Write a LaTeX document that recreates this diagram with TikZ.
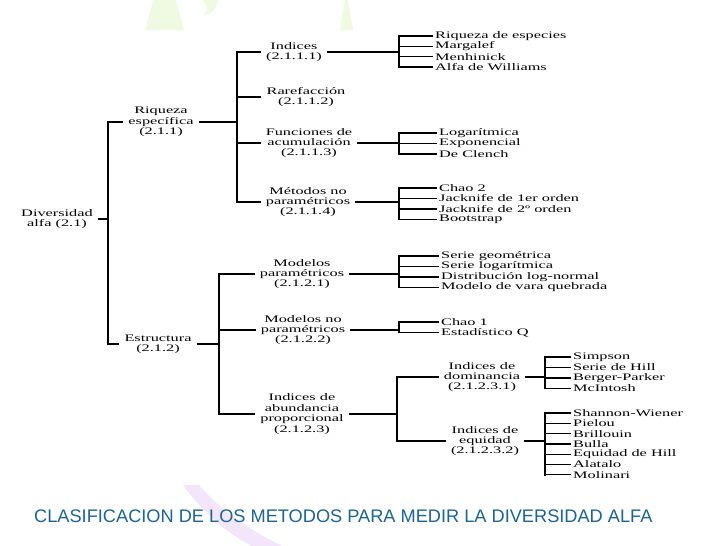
\documentclass[tikz,border=0pt]{standalone}
\usepackage{fontspec}
\newfontfamily\treefont[FakeStretch=1.63]{Liberation Serif}
\newfontfamily\capfont{Liberation Sans}
\usetikzlibrary{positioning,calc}
\definecolor{captionblue}{RGB}{27,100,150}
\definecolor{softgreen}{RGB}{240,250,226}
\definecolor{softpurple}{RGB}{243,230,250}

\begin{document}
\begin{tikzpicture}[
    x=1pt, y=-1pt,
    branch/.style={align=center, inner xsep=5pt, inner ysep=2pt, font=\treefont\fontsize{10}{10.4}\selectfont},
    leaf/.style={anchor=west, inner sep=2pt, font=\treefont\fontsize{10}{10.4}\selectfont},
    twig/.style={line width=1.2pt},
    rail/.style={line width=1.7pt, line cap=rect}
]
    \useasboundingbox (0,0) rectangle (728,546);
    \fill[white] (0,0) rectangle (728,546);

    % Fondo
    \fill[softgreen] (153,0) -- (176,0) -- (184,30) -- (145,30) -- cycle;
    \fill[softgreen] (203,0) -- (218,0) .. controls (216,10) and (210,15) .. (204,15) .. controls (208,9) .. (203,0);
    \fill[softgreen] (345,0) -- (348,0) -- (353,30) -- (340,30) -- cycle;
    \fill[softpurple] (183,485) .. controls (205,515) and (230,535) .. (252,546) -- (282,546) .. controls (250,530) and (220,510) .. (199,485) -- cycle;

    % Nivel 0 y 1
    \node[branch] (div) at (57,219) {Diversidad\\alfa (2.1)};
    \node[branch] (riq) at (161,122) {Riqueza\\específica\\(2.1.1)};
    \node[branch] (est) at (158,344) {Estructura\\(2.1.2)};
    \coordinate (r1) at (108,219);

    % Riqueza específica
    \node[branch] (ind) at (294,52) {Indices\\(2.1.1.1)};
    \node[branch] (rar) at (306,97) {Rarefacción\\(2.1.1.2)};
    \node[branch] (fun) at (309,143) {Funciones de\\acumulación\\(2.1.1.3)};
    \node[branch] (mnp) at (308,202) {Métodos no\\paramétricos\\(2.1.1.4)};
    \coordinate (r2) at (237,122);

    % Indices
    \node[leaf] (a1) at (433,36) {Riqueza de especies};
    \node[leaf] (a2) at (433,46.3) {Margalef};
    \node[leaf] (a3) at (433,56.6) {Menhinick};
    \node[leaf] (a4) at (433,67) {Alfa de Williams};
    \coordinate (ra) at (399,52);

    % Funciones de acumulación
    \node[leaf] (b1) at (437,133) {Logarítmica};
    \node[leaf] (b2) at (437,143.5) {Exponencial};
    \node[leaf] (b3) at (437,154) {De Clench};
    \coordinate (rb) at (399,143);

    % Métodos no paramétricos
    \node[leaf] (c1) at (437,188) {Chao 2};
    \node[leaf] (c2) at (437,198.5) {Jacknife de 1er orden};
    \node[leaf] (c3) at (437,209) {Jacknife de 2º orden};
    \node[leaf] (c4) at (437,219.5) {Bootstrap};
    \coordinate (rc) at (399,202);

    % Estructura
    \node[branch] (mpa) at (302,274) {Modelos\\paramétricos\\(2.1.2.1)};
    \node[branch] (mnq) at (303,330) {Modelos no\\paramétricos\\(2.1.2.2)};
    \node[branch] (iap) at (302,414) {Indices de\\abundancia\\proporcional\\(2.1.2.3)};
    \coordinate (r3) at (219,344);

    % Modelos paramétricos
    \node[leaf] (d1) at (439,256) {Serie geométrica};
    \node[leaf] (d2) at (439,266.5) {Serie logarítmica};
    \node[leaf] (d3) at (439,277) {Distribución log-normal};
    \node[leaf] (d4) at (439,287.5) {Modelo de vara quebrada};
    \coordinate (rd) at (399,274);

    % Modelos no paramétricos
    \node[leaf] (e1) at (439,322) {Chao 1};
    \node[leaf] (e2) at (439,332.5) {Estadístico Q};
    \coordinate (re) at (399,330);

    % Abundancia proporcional
    \node[branch] (dom) at (482,377) {Indices de\\dominancia\\(2.1.2.3.1)};
    \node[branch] (equ) at (485,441) {Indices de\\equidad\\(2.1.2.3.2)};
    \coordinate (rf) at (397,414);

    % Dominancia
    \node[leaf] (g1) at (571,357) {Simpson};
    \node[leaf] (g2) at (571,367.5) {Serie de Hill};
    \node[leaf] (g3) at (571,378) {Berger-Parker};
    \node[leaf] (g4) at (571,388.5) {McIntosh};
    \coordinate (rg) at (545,377);

    % Equidad
    \node[leaf] (h1) at (571,413) {Shannon-Wiener};
    \node[leaf] (h2) at (571,423.3) {Pielou};
    \node[leaf] (h3) at (571,433.6) {Brillouin};
    \node[leaf] (h4) at (571,443.9) {Bulla};
    \node[leaf] (h5) at (571,454.2) {Equidad de Hill};
    \node[leaf] (h6) at (571,464.5) {Alatalo};
    \node[leaf] (h7) at (571,474.8) {Molinari};
    \coordinate (rh) at (545,441);

    % Conectores nivel 1
    \draw[twig] (div.east) -- (r1);
    \draw[rail] (riq.west -| r1) -- (est.west -| r1);
    \draw[twig] (riq.west -| r1) -- (riq.west);
    \draw[twig] (est.west -| r1) -- (est.west);

    % Conectores Riqueza
    \draw[twig] (riq.east) -- (r2);
    \draw[rail] (ind.west -| r2) -- (mnp.west -| r2);
    \draw[twig] (ind.west -| r2) -- (ind.west);
    \draw[twig] (rar.west -| r2) -- (rar.west);
    \draw[twig] (fun.west -| r2) -- (fun.west);
    \draw[twig] (mnp.west -| r2) -- (mnp.west);

    \draw[twig] (ind.east) -- (ra);
    \draw[rail] (a1.west -| ra) -- (a4.west -| ra);
    \draw[twig] (a1.west -| ra) -- (a1.west);
    \draw[twig] (a2.west -| ra) -- (a2.west);
    \draw[twig] (a3.west -| ra) -- (a3.west);
    \draw[twig] (a4.west -| ra) -- (a4.west);

    \draw[twig] (fun.east) -- (rb);
    \draw[rail] (b1.west -| rb) -- (b3.west -| rb);
    \draw[twig] (b1.west -| rb) -- (b1.west);
    \draw[twig] (b2.west -| rb) -- (b2.west);
    \draw[twig] (b3.west -| rb) -- (b3.west);

    \draw[twig] (mnp.east) -- (rc);
    \draw[rail] (c1.west -| rc) -- (c4.west -| rc);
    \draw[twig] (c1.west -| rc) -- (c1.west);
    \draw[twig] (c2.west -| rc) -- (c2.west);
    \draw[twig] (c3.west -| rc) -- (c3.west);
    \draw[twig] (c4.west -| rc) -- (c4.west);

    % Conectores Estructura
    \draw[twig] (est.east) -- (r3);
    \draw[rail] (mpa.west -| r3) -- (iap.west -| r3);
    \draw[twig] (mpa.west -| r3) -- (mpa.west);
    \draw[twig] (mnq.west -| r3) -- (mnq.west);
    \draw[twig] (iap.west -| r3) -- (iap.west);

    \draw[twig] (mpa.east) -- (rd);
    \draw[rail] (d1.west -| rd) -- (d4.west -| rd);
    \draw[twig] (d1.west -| rd) -- (d1.west);
    \draw[twig] (d2.west -| rd) -- (d2.west);
    \draw[twig] (d3.west -| rd) -- (d3.west);
    \draw[twig] (d4.west -| rd) -- (d4.west);

    \draw[twig] (mnq.east) -- (re);
    \draw[rail] (e1.west -| re) -- (e2.west -| re);
    \draw[twig] (e1.west -| re) -- (e1.west);
    \draw[twig] (e2.west -| re) -- (e2.west);

    \draw[twig] (iap.east) -- (rf);
    \draw[rail] (dom.west -| rf) -- (equ.west -| rf);
    \draw[twig] (dom.west -| rf) -- (dom.west);
    \draw[twig] (equ.west -| rf) -- (equ.west);

    \draw[twig] (dom.east) -- (rg);
    \draw[rail] (g1.west -| rg) -- (g4.west -| rg);
    \draw[twig] (g1.west -| rg) -- (g1.west);
    \draw[twig] (g2.west -| rg) -- (g2.west);
    \draw[twig] (g3.west -| rg) -- (g3.west);
    \draw[twig] (g4.west -| rg) -- (g4.west);

    \draw[twig] (equ.east) -- (rh);
    \draw[rail] (h1.west -| rh) -- (h7.west -| rh);
    \draw[twig] (h1.west -| rh) -- (h1.west);
    \draw[twig] (h2.west -| rh) -- (h2.west);
    \draw[twig] (h3.west -| rh) -- (h3.west);
    \draw[twig] (h4.west -| rh) -- (h4.west);
    \draw[twig] (h5.west -| rh) -- (h5.west);
    \draw[twig] (h6.west -| rh) -- (h6.west);
    \draw[twig] (h7.west -| rh) -- (h7.west);

    % Título
    \node[anchor=west, inner sep=0pt, text=captionblue, font=\capfont\fontsize{18.2}{20}\selectfont] (tit) at (34,516) {CLASIFICACION DE LOS METODOS PARA MEDIR LA DIVERSIDAD ALFA};
\end{tikzpicture}
\end{document}
